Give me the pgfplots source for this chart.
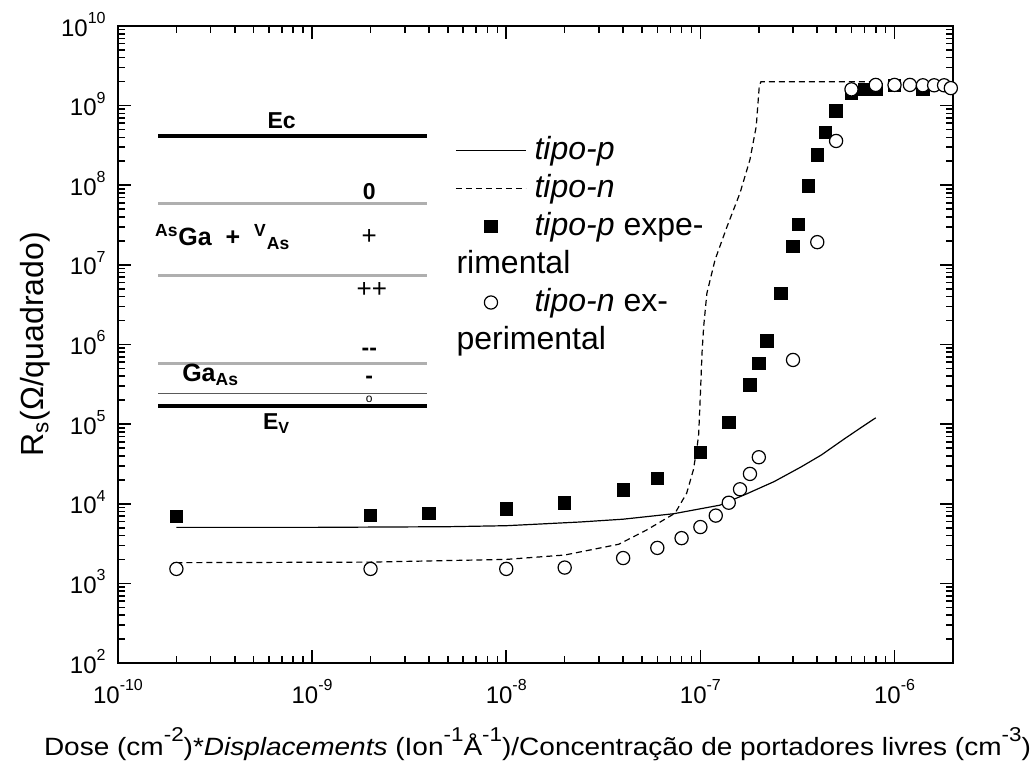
\documentclass[border=0pt]{standalone}
\usepackage{pgfplots}
\pgfplotsset{compat=1.18}
\usepackage{fontspec}
\setmainfont{Liberation Sans}
\newfontfamily\widefont{Liberation Sans}[FakeStretch=1.12]
\usetikzlibrary{calc}

\definecolor{bandgray}{RGB}{175,175,175}
\definecolor{banddark}{RGB}{90,90,90}

% expoentes das etiquetas
\newcommand{\tsup}[1]{\raisebox{6.3pt}{\fontsize{8}{8}\selectfont #1}}
\newcommand{\xsup}[1]{\raisebox{7pt}{\fontsize{10}{10}\selectfont #1}}

% resistencia de folha, tipo-p
\pgfplotstableread{
x y
2e-10 6.9e3
2e-9 7.1e3
4e-9 7.6e3
1e-8 8.6e3
2e-8 1.03e4
4e-8 1.49e4
6e-8 2.09e4
1e-7 4.4e4
1.4e-7 1.06e5
1.8e-7 3.1e5
2.0e-7 5.8e5
2.2e-7 1.11e6
2.6e-7 4.4e6
3.0e-7 1.7e7
3.2e-7 3.2e7
3.6e-7 9.8e7
4.0e-7 2.4e8
4.4e-7 4.6e8
5.0e-7 8.6e8
6.0e-7 1.44e9
7.0e-7 1.6e9
8.0e-7 1.6e9
1.0e-6 1.8e9
1.4e-6 1.6e9
}\expp

% resistencia de folha, tipo-n
\pgfplotstableread{
x y
2e-10 1.52e3
2e-9 1.52e3
1e-8 1.52e3
2e-8 1.58e3
4e-8 2.08e3
6e-8 2.79e3
8e-8 3.7e3
1e-7 5.1e3
1.2e-7 7.1e3
1.4e-7 1.03e4
1.6e-7 1.52e4
1.8e-7 2.37e4
2e-7 3.84e4
3e-7 6.4e5
4e-7 1.93e7
5e-7 3.6e8
6e-7 1.6e9
8e-7 1.82e9
1e-6 1.82e9
1.2e-6 1.82e9
1.4e-6 1.8e9
1.6e-6 1.8e9
1.8e-6 1.8e9
1.95e-6 1.66e9
}\expn

% modelo tipo-p
\pgfplotstableread{
x y
2e-10 5.05e3
1e-9 5.05e3
5e-9 5.15e3
1e-8 5.3e3
2.4e-8 5.9e3
4e-8 6.4e3
7.3e-8 7.5e3
1.26e-7 9.6e3
1.73e-7 1.33e4
2.4e-7 1.9e4
3.3e-7 2.9e4
4.2e-7 4.1e4
5.5e-7 6.5e4
6.7e-7 9.0e4
8e-7 1.2e5
}\teop

% modelo tipo-n
\pgfplotstableread{
x y
2e-10 1.82e3
2e-9 1.85e3
7.3e-9 1.97e3
1e-8 2.0e3
2e-8 2.27e3
3.8e-8 3.1e3
5.3e-8 4.7e3
7.4e-8 7.6e3
8.5e-8 1.36e4
9.2e-8 2.66e4
9.6e-8 5e4
9.8e-8 7.5e4
1.0e-7 2.4e5
1.02e-7 8e5
1.04e-7 1.7e6
1.08e-7 4.4e6
1.19e-7 1.16e7
1.37e-7 3.0e7
1.6e-7 8.0e7
1.8e-7 2.1e8
1.94e-7 5.5e8
2.01e-7 1.74e9
2.05e-7 2.0e9
8e-7 2.0e9
}\teon

\begin{document}
\begin{tikzpicture}[font=\fontsize{16}{19}\selectfont]
\begin{axis}[
    name=ax,
    scale only axis,
    width=417.5pt, height=318.5pt,
    xmode=log, ymode=log,
    xmin=1e-10, xmax=2e-6,
    ymin=1e2, ymax=1e10,
    xtick={1e-10,1e-9,1e-8,1e-7,1e-6},
    xticklabels={10\tsup{-10},10\tsup{-9},10\tsup{-8},10\tsup{-7},10\tsup{-6}},
    minor xtick={2e-10,3e-10,4e-10,5e-10,6e-10,7e-10,8e-10,9e-10,
                 2e-9,3e-9,4e-9,5e-9,6e-9,7e-9,8e-9,9e-9,
                 2e-8,3e-8,4e-8,5e-8,6e-8,7e-8,8e-8,9e-8,
                 2e-7,3e-7,4e-7,5e-7,6e-7,7e-7,8e-7,9e-7},
    ytick={1e2,1e3,1e4,1e5,1e6,1e7,1e8,1e9,1e10},
    yticklabels={10\tsup{2},10\tsup{3},10\tsup{4},10\tsup{5},10\tsup{6},10\tsup{7},10\tsup{8},10\tsup{9},10\tsup{10}},
    minor ytick={2e2,3e2,4e2,5e2,6e2,7e2,8e2,9e2,
                 2e3,3e3,4e3,5e3,6e3,7e3,8e3,9e3,
                 2e4,3e4,4e4,5e4,6e4,7e4,8e4,9e4,
                 2e5,3e5,4e5,5e5,6e5,7e5,8e5,9e5,
                 2e6,3e6,4e6,5e6,6e6,7e6,8e6,9e6,
                 2e7,3e7,4e7,5e7,6e7,7e7,8e7,9e7,
                 2e8,3e8,4e8,5e8,6e8,7e8,8e8,9e8,
                 2e9,3e9,4e9,5e9,6e9,7e9,8e9,9e9},
    tick pos=both,
    tick align=inside,
    major tick length=6.5pt,
    minor tick length=3.5pt,
    every tick/.style={black, line width=0.8pt},
    axis line style={line width=1.1pt},
    tick label style={font=\fontsize{12}{14}\selectfont},
    xticklabel style={anchor=base, yshift=-20pt},
    yticklabel style={anchor=base east, inner sep=0pt, xshift=-6pt, yshift=-5pt},
    xlabel={\widefont Dose (cm\xsup{-2})*\textit{Displacements} (Ion\xsup{-1}Å\xsup{-1})/Concentração de portadores livres (cm\xsup{-3})},
    xlabel style={at={(rel axis cs:0.5024,0)}, anchor=base, inner sep=0pt, yshift=-46pt, font=\fontsize{12.5}{15}\selectfont},
    ylabel={R\textsubscript{s}(Ω/quadrado)},
    ylabel style={at={(rel axis cs:-0.0994,0.5)}, anchor=center},
    legend image code/.code={\draw[mark repeat=2,mark phase=2,#1] plot coordinates {(0pt,0pt) (17.5pt,0pt) (35pt,0pt)};},
    legend cell align=left,
    legend style={at={(rel axis cs:0.4036,0.835)}, anchor=north west,
        draw=none, fill=none, inner sep=0pt, row sep=0pt, column sep=4pt,
        font=\fontsize{16}{19}\selectfont,
        nodes={inner sep=0pt, text height=14pt, text depth=5pt}},
]
\addlegendimage{black, line width=0.6pt}
\addlegendentry{\textit{tipo-p}}
\addlegendimage{black, line width=0.6pt, dash pattern=on 3pt off 2pt}
\addlegendentry{\textit{tipo-n}}
\addlegendimage{only marks, mark=square*, mark size=3.1pt, black}
\addlegendentry{\textit{tipo-p} expe-}
\addlegendimage{empty legend}
\addlegendentry{\hspace*{-39pt}rimental}
\addlegendimage{only marks, mark=*, mark size=3.3pt, mark options={fill=white, draw=black, line width=0.6pt}}
\addlegendentry{\textit{tipo-n} ex-}
\addlegendimage{empty legend}
\addlegendentry{\hspace*{-39pt}perimental}

\addplot[forget plot, black, line width=0.6pt] table[x=x, y=y] {\teop};
\addplot[forget plot, black, line width=0.6pt, dash pattern=on 3pt off 2pt] table[x=x, y=y] {\teon};
\addplot[forget plot, only marks, mark=square*, mark size=3.1pt, black] table[x=x, y=y] {\expp};
\addplot[forget plot, only marks, mark=*, mark size=3.3pt, mark options={fill=white, draw=black, line width=0.6pt}] table[x=x, y=y] {\expn};

% diagrama de bandas
\draw[black, line width=2.2pt] (rel axis cs:0.048,0.827) -- (rel axis cs:0.370,0.827);
\draw[bandgray, line width=1.5pt] (rel axis cs:0.048,0.722) -- (rel axis cs:0.370,0.722);
\draw[bandgray, line width=1.5pt] (rel axis cs:0.048,0.608) -- (rel axis cs:0.370,0.608);
\draw[bandgray, line width=1.5pt] (rel axis cs:0.048,0.470) -- (rel axis cs:0.370,0.470);
\draw[banddark, line width=0.7pt] (rel axis cs:0.048,0.423) -- (rel axis cs:0.370,0.423);
\draw[black, line width=2.2pt] (rel axis cs:0.048,0.403) -- (rel axis cs:0.370,0.403);
\begin{scope}[every node/.style={font=\fontsize{11.5}{13}\selectfont\bfseries, inner sep=0pt}]
\node at (rel axis cs:0.196,0.852) {Ec};
\node at (rel axis cs:0.190,0.376) {E\textsubscript{V}};
\node at (rel axis cs:0.301,0.740) {0};
\node[font=\fontsize{13}{15}\selectfont] at (rel axis cs:0.301,0.669) {+};
\node[font=\fontsize{13}{15}\selectfont] at (rel axis cs:0.304,0.586) {++};
\node at (rel axis cs:0.301,0.489) {-{}-};
\node at (rel axis cs:0.301,0.444) {-};
\node[font=\fontsize{6}{7}\selectfont] at (rel axis cs:0.301,0.414) {o};
\node[anchor=west, font=\fontsize{12.5}{15}\selectfont\bfseries] at (rel axis cs:0.044,0.669) {\textsuperscript{As}Ga\ \ +\ \ \textsuperscript{V}\textsubscript{As}};
\node[font=\fontsize{12.5}{15}\selectfont\bfseries] at (rel axis cs:0.111,0.452) {Ga\textsubscript{As}};
\end{scope}
\end{axis}
\pgfresetboundingbox
\path[use as bounding box] ($(ax.south west)+(-59pt,-49.5pt)$) rectangle ($(ax.north east)+(40.5pt,13pt)$);
\end{tikzpicture}
\end{document}
